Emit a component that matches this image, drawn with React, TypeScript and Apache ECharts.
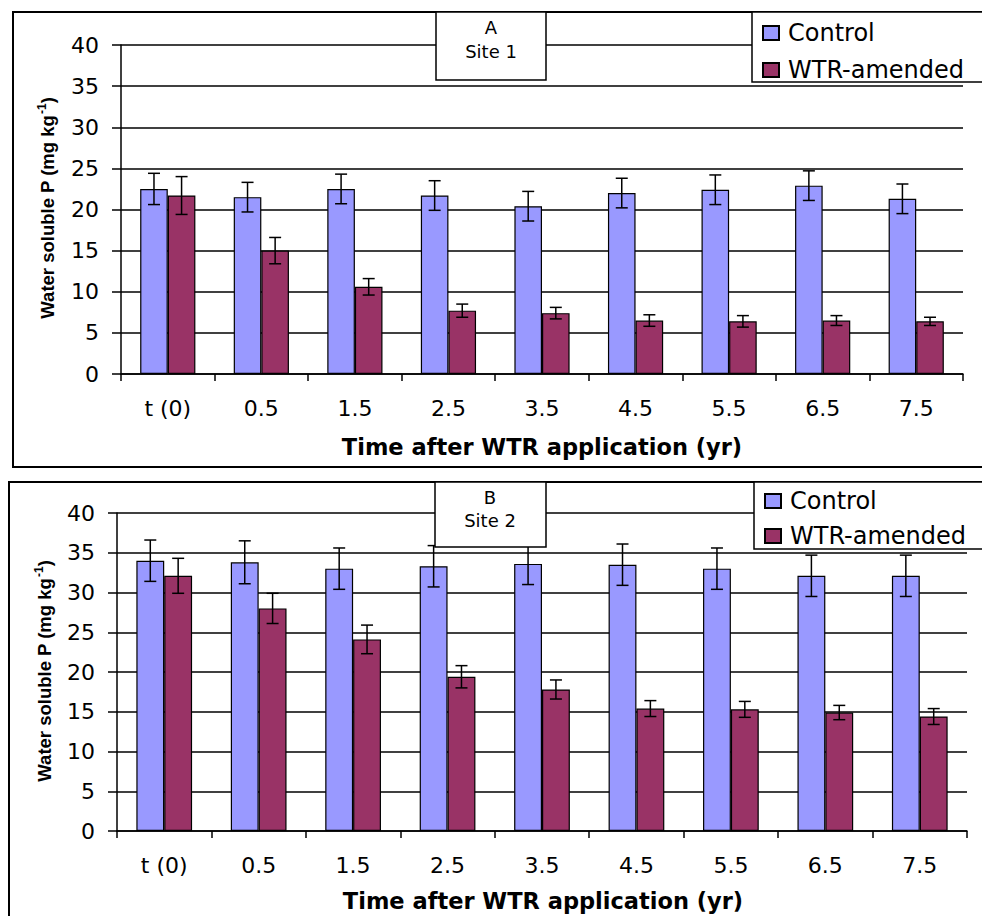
import React, { useEffect, useRef } from "react";
import * as echarts from "echarts";

// Sampling times after WTR application
const categories = ["t (0)", "0.5", "1.5", "2.5", "3.5", "4.5", "5.5", "6.5", "7.5"];

// Site 1 — water soluble P (mg kg-1) and error-bar half widths
const site1Control = [22.5, 21.5, 22.5, 21.7, 20.4, 22.0, 22.4, 22.9, 21.3];
const site1ControlErr = [1.9, 1.8, 1.8, 1.8, 1.8, 1.8, 1.8, 1.8, 1.8];
const site1Wtr = [21.7, 15.0, 10.6, 7.7, 7.4, 6.5, 6.4, 6.5, 6.4];
const site1WtrErr = [2.3, 1.6, 1.0, 0.8, 0.7, 0.7, 0.7, 0.6, 0.5];

// Site 2
const site2Control = [34.0, 33.8, 33.0, 33.3, 33.6, 33.5, 33.0, 32.1, 32.1];
const site2ControlErr = [2.6, 2.7, 2.6, 2.6, 2.6, 2.6, 2.6, 2.6, 2.6];
const site2Wtr = [32.1, 28.0, 24.1, 19.4, 17.8, 15.4, 15.3, 14.9, 14.4];
const site2WtrErr = [2.2, 1.9, 1.8, 1.4, 1.2, 1.0, 1.0, 0.9, 1.0];

const yTicks = { min: 0, max: 40, interval: 5 };

const CONTROL_COLOR = "#9999FF";
const WTR_COLOR = "#993366";
const FONT = "DejaVu Sans";
const BOLD_FONT = "Liberation Sans";
const CAT_GAP = 0.41;

function barSeries(name: string, data: number[], color: string, axis: number) {
  return {
    type: "bar",
    name,
    data,
    xAxisIndex: axis,
    yAxisIndex: axis,
    barGap: "0%",
    barCategoryGap: `${CAT_GAP * 100}%`,
    itemStyle: { color, borderColor: "#000", borderWidth: 1.2 },
    z: 2,
  };
}

function errorSeries(values: number[], errs: number[], side: number, axis: number) {
  return {
    type: "custom",
    xAxisIndex: axis,
    yAxisIndex: axis,
    z: 5,
    silent: true,
    data: values.map((v, i) => [i, v, errs[i]]),
    renderItem: (_params: any, api: any) => {
      const idx = api.value(0);
      const v = api.value(1);
      const e = api.value(2);
      const band = api.size([1, 0])[0];
      const cx = api.coord([idx, v])[0] + (side * band * (1 - CAT_GAP)) / 4;
      const yt = api.coord([idx, v + e])[1];
      const yb = api.coord([idx, v - e])[1];
      const cap = 6;
      const style = { stroke: "#000", lineWidth: 1.5 };
      return {
        type: "group",
        children: [
          { type: "line", shape: { x1: cx, y1: yt, x2: cx, y2: yb }, style },
          { type: "line", shape: { x1: cx - cap, y1: yt, x2: cx + cap, y2: yt }, style },
          { type: "line", shape: { x1: cx - cap, y1: yb, x2: cx + cap, y2: yb }, style },
        ],
      };
    },
  };
}

function xAxisFor(grid: number) {
  return {
    type: "category",
    gridIndex: grid,
    data: categories,
    axisLine: { lineStyle: { color: "#000", width: 1.5 } },
    axisTick: { show: true, length: 7, lineStyle: { color: "#000", width: 1.5 } },
    axisLabel: { color: "#000", fontSize: 22, fontFamily: FONT, margin: 23 },
  };
}

function yAxisFor(grid: number) {
  return {
    type: "value",
    gridIndex: grid,
    min: yTicks.min,
    max: yTicks.max,
    interval: yTicks.interval,
    axisLine: { show: true, lineStyle: { color: "#000", width: 1.5 } },
    axisTick: { show: true, length: 9, lineStyle: { color: "#000", width: 1.5 } },
    splitLine: { show: true, lineStyle: { color: "#000", width: 1.5 } },
    axisLabel: { color: "#000", fontSize: 22, fontFamily: FONT, margin: 22 },
  };
}

function legendFor(left: number, top: number, gap: number) {
  return {
    orient: "vertical",
    left,
    top,
    itemWidth: 16,
    itemHeight: 14,
    itemGap: gap,
    icon: "rect",
    selectedMode: false,
    z: 20,
    data: ["Control", "WTR-amended"],
    textStyle: { color: "#000", fontSize: 24, fontFamily: FONT, padding: [0, 0, 0, 4] },
  };
}

function box(x: number, y: number, w: number, h: number) {
  return {
    type: "rect",
    z: 10,
    shape: { x, y, width: w, height: h },
    style: { fill: "#fff", stroke: "#000", lineWidth: 1.5 },
  };
}

function label(text: string, x: number, y: number, size: number) {
  return {
    type: "text",
    z: 11,
    x,
    y,
    style: {
      text,
      fill: "#000",
      fontSize: size,
      fontFamily: FONT,
      align: "center",
      verticalAlign: "middle",
    },
  };
}

function yName(x: number, y: number) {
  return {
    type: "text",
    z: 11,
    x,
    y,
    rotation: Math.PI / 2,
    style: {
      text: "{b|Water soluble P (mg kg}{s|-1}{b|)}",
      align: "center",
      verticalAlign: "middle",
      rich: {
        b: { fontSize: 18.5, fontWeight: "bold", fontFamily: BOLD_FONT, fill: "#000", lineHeight: 22 },
        s: {
          fontSize: 12,
          fontWeight: "bold",
          fontFamily: BOLD_FONT,
          fill: "#000",
          verticalAlign: "top",
          lineHeight: 22,
          padding: [0, 0, 8, 1],
        },
      },
    },
  };
}

function xName(x: number, y: number) {
  return {
    type: "text",
    z: 11,
    x,
    y,
    style: {
      text: "Time after WTR application (yr)",
      fill: "#000",
      fontSize: 22.5,
      fontWeight: "bold",
      fontFamily: FONT,
      align: "center",
      verticalAlign: "middle",
    },
  };
}

export default function App() {
  const ref = useRef<HTMLDivElement>(null);

  useEffect(() => {
    if (!ref.current) return;
    const chart = echarts.init(ref.current, undefined, { renderer: "svg" });
    chart.setOption({
      animation: false,
      backgroundColor: "#fff",
      grid: [
        { left: 121, top: 45, width: 842, height: 329 },
        { left: 117, top: 513, width: 850, height: 318 },
      ],
      xAxis: [xAxisFor(0), xAxisFor(1)],
      yAxis: [yAxisFor(0), yAxisFor(1)],
      legend: [legendFor(757, 16, 13), legendFor(759, 484, 11)],
      series: [
        barSeries("Control", site1Control, CONTROL_COLOR, 0),
        barSeries("WTR-amended", site1Wtr, WTR_COLOR, 0),
        errorSeries(site1Control, site1ControlErr, -1, 0),
        errorSeries(site1Wtr, site1WtrErr, 1, 0),
        barSeries("Control", site2Control, CONTROL_COLOR, 1),
        barSeries("WTR-amended", site2Wtr, WTR_COLOR, 1),
        errorSeries(site2Control, site2ControlErr, -1, 1),
        errorSeries(site2Wtr, site2WtrErr, 1, 1),
      ],
      graphic: [
        {
          type: "rect",
          z: 1,
          shape: { x: 13, y: 12, width: 985, height: 455 },
          style: { fill: "none", stroke: "#000", lineWidth: 2 },
        },
        {
          type: "rect",
          z: 1,
          shape: { x: 9, y: 482, width: 990, height: 460 },
          style: { fill: "none", stroke: "#000", lineWidth: 2 },
        },
        box(436, 12, 110, 68),
        label("A", 491, 27, 18),
        label("Site 1", 491, 51, 18),
        box(752, 12, 240, 70),
        box(435, 482, 111, 65),
        label("B", 490, 497, 18),
        label("Site 2", 490, 520, 18),
        box(754, 482, 240, 67),
        yName(47, 208),
        yName(44, 671),
        xName(542, 447),
        xName(543, 901),
      ],
    });
    return () => chart.dispose();
  }, []);

  return (
    <div
      ref={ref}
      style={{ position: "fixed", left: 0, top: 0, width: 982, height: 916, background: "#fff" }}
    />
  );
}
